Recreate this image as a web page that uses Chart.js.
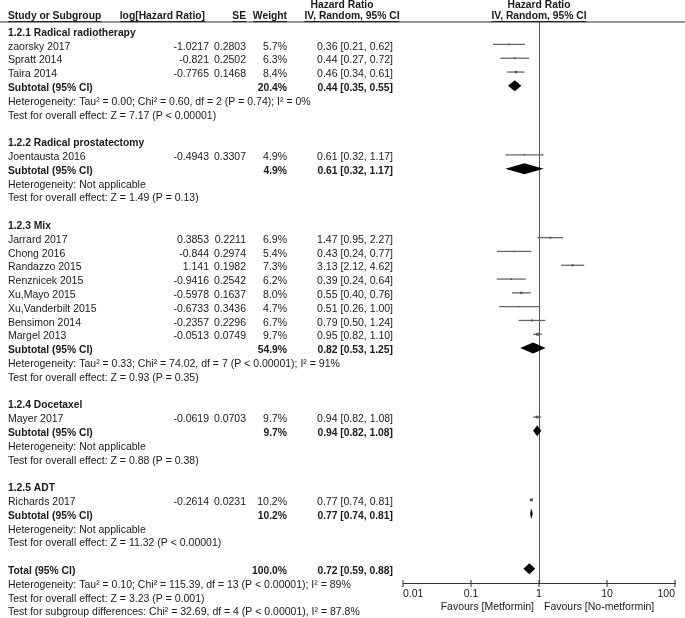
<!DOCTYPE html>
<html>
<head>
<meta charset="utf-8">
<script src="https://cdn.jsdelivr.net/npm/chart.js@4.4.0/dist/chart.umd.min.js"></script>
<style>
  html, body { margin: 0; padding: 0; background: #fff; }
  #wrap { width: 685px; height: 618px; position: relative; }
</style>
</head>
<body>
<div id="wrap"><canvas id="forest"></canvas></div>
<script>
'use strict';

// Study data

const groupNames = ['1.2.1 Radical radiotherapy', '1.2.2 Radical prostatectomy', '1.2.3 Mix', '1.2.4 Docetaxel', '1.2.5 ADT'];
const studyNames = ['zaorsky 2017', 'Spratt 2014', 'Taira 2014', 'Joentausta 2016', 'Jarrard 2017', 'Chong 2016',
  'Randazzo 2015', 'Renznicek 2015', 'Xu,Mayo 2015', 'Xu,Vanderbilt 2015', 'Bensimon 2014', 'Margel 2013',
  'Mayer 2017', 'Richards 2017'];
const studyGroup = [0, 0, 0, 1, 2, 2, 2, 2, 2, 2, 2, 2, 3, 4];
const logHR = ['-1.0217', '-0.821', '-0.7765', '-0.4943', '0.3853', '-0.844', '1.141', '-0.9416', '-0.5978',
  '-0.6733', '-0.2357', '-0.0513', '-0.0619', '-0.2614'];
const seVals = ['0.2803', '0.2502', '0.1468', '0.3307', '0.2211', '0.2974', '0.1982', '0.2542', '0.1637',
  '0.3436', '0.2296', '0.0749', '0.0703', '0.0231'];
const weights = [5.7, 6.3, 8.4, 4.9, 6.9, 5.4, 7.3, 6.2, 8.0, 4.7, 6.7, 9.7, 9.7, 10.2];
const hrVals = [0.36, 0.44, 0.46, 0.61, 1.47, 0.43, 3.13, 0.39, 0.55, 0.51, 0.79, 0.95, 0.94, 0.77];
const ciLow = [0.21, 0.27, 0.34, 0.32, 0.95, 0.24, 2.12, 0.24, 0.40, 0.26, 0.50, 0.82, 0.82, 0.74];
const ciHigh = [0.62, 0.72, 0.61, 1.17, 2.27, 0.77, 4.62, 0.64, 0.76, 1.00, 1.24, 1.10, 1.08, 0.81];

// Subgroup and overall results

const subWeights = [20.4, 4.9, 54.9, 9.7, 10.2];
const subHR = [0.44, 0.61, 0.82, 0.94, 0.77];
const subLow = [0.35, 0.32, 0.53, 0.82, 0.74];
const subHigh = [0.55, 1.17, 1.25, 1.08, 0.81];
const subHet = [
  'Heterogeneity: Tau² = 0.00; Chi² = 0.60, df = 2 (P = 0.74); I² = 0%',
  'Heterogeneity: Not applicable',
  'Heterogeneity: Tau² = 0.33; Chi² = 74.02, df = 7 (P < 0.00001); I² = 91%',
  'Heterogeneity: Not applicable',
  'Heterogeneity: Not applicable'
];
const subTest = [
  'Test for overall effect: Z = 7.17 (P < 0.00001)',
  'Test for overall effect: Z = 1.49 (P = 0.13)',
  'Test for overall effect: Z = 0.93 (P = 0.35)',
  'Test for overall effect: Z = 0.88 (P = 0.38)',
  'Test for overall effect: Z = 11.32 (P < 0.00001)'
];
const totalWeight = 100.0;
const totalHR = 0.72;
const totalLow = 0.59;
const totalHigh = 0.88;
const totalNotes = [
  'Heterogeneity: Tau² = 0.10; Chi² = 115.39, df = 13 (P < 0.00001); I² = 89%',
  'Test for overall effect: Z = 3.23 (P = 0.001)',
  'Test for subgroup differences: Chi² = 32.69, df = 4 (P < 0.00001), I² = 87.8%'
];

// Axis

const axisTicks = [0.01, 0.1, 1, 10, 100];
const tickLabels = ['0.01', '0.1', '1', '10', '100'];
const favourLeft = 'Favours [Metformin]';
const favourRight = 'Favours [No-metformin]';

// Work out which row everything goes on

let studyRows = [];
let groupRows = [];
let subRows = [];
let row = 0;
for (let g = 0; g < groupNames.length; g++) {
  groupRows.push(row);
  row++;
  for (let i = 0; i < studyNames.length; i++) {
    if (studyGroup[i] === g) {
      studyRows[i] = row;
      row++;
    }
  }
  subRows.push(row);
  row += 4; // subtotal, heterogeneity, test, blank
}
const totalRow = row;

const FONT = '"Liberation Sans", Arial, sans-serif';
const TEXT = '#1a1a1a';
const markOffset = 0.17;

function fmtCI(hr, lo, hi) {
  return `${hr.toFixed(2)} [${lo.toFixed(2)}, ${hi.toFixed(2)}]`;
}

function drawText(ctx, str, x, y, align, bold, underline) {
  ctx.font = `${bold ? 'bold 10.3px' : '10.5px'} ${FONT}`;
  ctx.textAlign = align;
  ctx.textBaseline = 'middle';
  ctx.fillStyle = TEXT;
  ctx.fillText(str, x, y);
  if (underline) {
    const w = ctx.measureText(str).width;
    let x0 = x;
    if (align === 'right') x0 = x - w;
    if (align === 'center') x0 = x - w / 2;
    ctx.fillRect(x0, y + 5, w, 1);
  }
}

function drawDiamond(ctx, xs, py, hr, lo, hi) {
  ctx.beginPath();
  ctx.moveTo(xs.getPixelForValue(lo), py);
  ctx.lineTo(xs.getPixelForValue(hr), py - 5.5);
  ctx.lineTo(xs.getPixelForValue(hi), py);
  ctx.lineTo(xs.getPixelForValue(hr), py + 5.5);
  ctx.closePath();
  ctx.fill();
}

// Whiskers, diamonds and all the table text

const forestPlugin = {
  id: 'forest',
  beforeDatasetsDraw(chart) {
    const ctx = chart.ctx;
    const xs = chart.scales.x;
    const ys = chart.scales.y;
    ctx.save();
    ctx.strokeStyle = '#666';
    ctx.lineWidth = 1.3;
    for (let i = 0; i < studyNames.length; i++) {
      const py = ys.getPixelForValue(studyRows[i] - markOffset);
      ctx.beginPath();
      ctx.moveTo(xs.getPixelForValue(ciLow[i]), py);
      ctx.lineTo(xs.getPixelForValue(ciHigh[i]), py);
      ctx.stroke();
    }
    ctx.restore();
  },
  afterDatasetsDraw(chart) {
    const ctx = chart.ctx;
    const xs = chart.scales.x;
    const ys = chart.scales.y;
    ctx.save();
    ctx.fillStyle = '#000';
    for (let g = 0; g < groupNames.length; g++) {
      drawDiamond(ctx, xs, ys.getPixelForValue(subRows[g] - markOffset), subHR[g], subLow[g], subHigh[g]);
    }
    drawDiamond(ctx, xs, ys.getPixelForValue(totalRow - markOffset), totalHR, totalLow, totalHigh);
    ctx.restore();
  },
  afterDraw(chart) {
    const ctx = chart.ctx;
    const xs = chart.scales.x;
    const ys = chart.scales.y;
    const xOne = xs.getPixelForValue(1);
    ctx.save();

    // header
    drawText(ctx, 'Hazard Ratio', 342, 5, 'center', true);
    drawText(ctx, 'Hazard Ratio', xOne, 5, 'center', true);
    drawText(ctx, 'Study or Subgroup', 8, 16, 'left', true, true);
    drawText(ctx, 'log[Hazard Ratio]', 205, 16, 'right', true, true);
    drawText(ctx, 'SE', 246, 16, 'right', true, true);
    drawText(ctx, 'Weight', 287, 16, 'right', true, true);
    drawText(ctx, 'IV, Random, 95% CI', 352, 16, 'center', true, true);
    drawText(ctx, 'IV, Random, 95% CI', xOne, 16, 'center', true, true);
    ctx.fillStyle = '#333';
    ctx.fillRect(0, 21.5, 685, 1);

    // groups
    for (let g = 0; g < groupNames.length; g++) {
      drawText(ctx, groupNames[g], 8, ys.getPixelForValue(groupRows[g]), 'left', true);
      const sy = subRows[g];
      drawText(ctx, 'Subtotal (95% CI)', 8, ys.getPixelForValue(sy), 'left', true);
      drawText(ctx, subWeights[g].toFixed(1) + '%', 287, ys.getPixelForValue(sy), 'right', true);
      drawText(ctx, fmtCI(subHR[g], subLow[g], subHigh[g]), 393, ys.getPixelForValue(sy), 'right', true);
      drawText(ctx, subHet[g], 8, ys.getPixelForValue(sy + 1), 'left', false);
      drawText(ctx, subTest[g], 8, ys.getPixelForValue(sy + 2), 'left', false);
    }

    // studies
    for (let i = 0; i < studyNames.length; i++) {
      const py = ys.getPixelForValue(studyRows[i]);
      drawText(ctx, studyNames[i], 8, py, 'left', false);
      drawText(ctx, logHR[i], 209, py, 'right', false);
      drawText(ctx, seVals[i], 246, py, 'right', false);
      drawText(ctx, weights[i].toFixed(1) + '%', 287, py, 'right', false);
      drawText(ctx, fmtCI(hrVals[i], ciLow[i], ciHigh[i]), 393, py, 'right', false);
    }

    // total
    const ty = ys.getPixelForValue(totalRow);
    drawText(ctx, 'Total (95% CI)', 8, ty, 'left', true);
    drawText(ctx, totalWeight.toFixed(1) + '%', 287, ty, 'right', true);
    drawText(ctx, fmtCI(totalHR, totalLow, totalHigh), 393, ty, 'right', true);
    totalNotes.forEach((t, k) => drawText(ctx, t, 8, ys.getPixelForValue(totalRow + 1 + k), 'left', false));

    // tick marks across the axis line
    ctx.fillStyle = '#333';
    axisTicks.forEach(v => {
      ctx.fillRect(Math.round(xs.getPixelForValue(v)) - 0.5, xs.top - 3, 1, 7);
    });

    drawText(ctx, favourLeft, xOne - 5, xs.top + 24, 'right', false);
    drawText(ctx, favourRight, xOne + 5, xs.top + 24, 'left', false);
    ctx.restore();
  }
};

let forestChart = new Chart(document.getElementById('forest').getContext('2d'), {
  type: 'scatter',
  data: {
    datasets: [{
      label: 'Studies',
      data: hrVals.map((v, i) => ({ x: v, y: studyRows[i] - markOffset })),
      pointStyle: 'rect',
      pointRadius: weights.map(w => w * 0.2),
      backgroundColor: '#555',
      borderWidth: 0
    }]
  },
  options: {
    responsive: true,
    maintainAspectRatio: false,
    animation: false,
    layout: { padding: { left: 403, right: 10, top: 22, bottom: 0 } },
    plugins: { legend: { display: false }, tooltip: { enabled: false } },
    scales: {
      x: {
        type: 'logarithmic',
        min: 0.01,
        max: 100,
        afterBuildTicks: (scale) => { scale.ticks = axisTicks.map(v => ({ value: v })); },
        afterFit: (scale) => { scale.height = 35; },
        ticks: {
          align: 'inner',
          maxRotation: 0,
          autoSkip: false,
          padding: 5,
          color: TEXT,
          font: { family: FONT, size: 10.5 },
          callback: (v) => tickLabels[axisTicks.indexOf(v)]
        },
        grid: {
          drawTicks: false,
          color: (c) => (c.tick && c.tick.value === 1 ? '#555' : 'rgba(0,0,0,0)'),
          lineWidth: 1
        },
        border: { display: true, color: '#333', width: 1 }
      },
      y: {
        type: 'linear',
        display: false,
        reverse: true,
        min: -0.797,
        max: 39.855
      }
    }
  },
  plugins: [forestPlugin]
});
</script>
</body>
</html>
